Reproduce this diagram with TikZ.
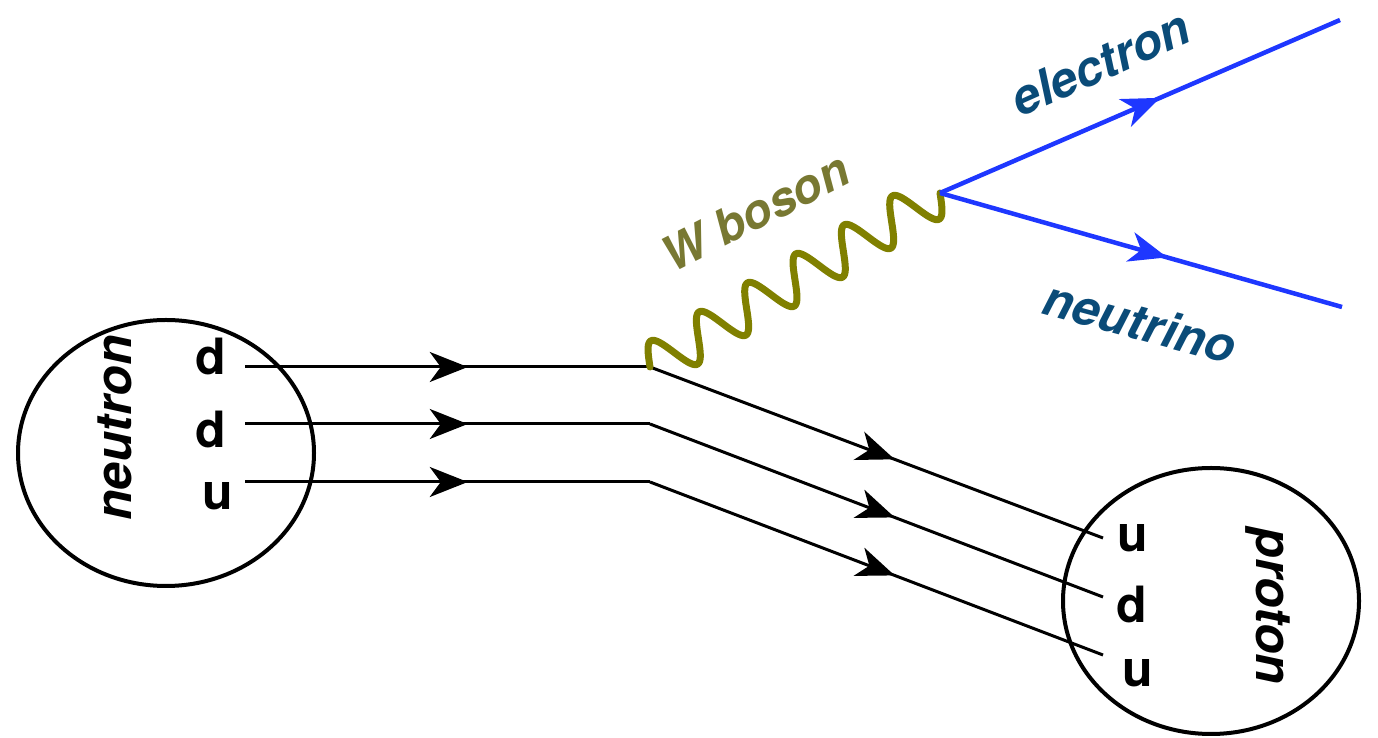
\documentclass[tikz,border=0pt]{standalone}
\usepackage{fontspec}
\setmainfont{TeX Gyre Heros}
\usetikzlibrary{arrows.meta,decorations.markings,shapes.geometric}
\definecolor{wolive}{RGB}{128,128,0}
\definecolor{wtext}{RGB}{120,120,50}
\definecolor{lblue}{RGB}{30,55,255}
\definecolor{tblue}{RGB}{10,75,120}
\tikzset{
  hadron/.style={draw=black,line width=4pt,ellipse,minimum width=296pt,minimum height=266pt,inner sep=0pt},
  quark/.style={font=\fontsize{50}{60}\selectfont\bfseries,inner sep=0pt,anchor=base},
  plabel/.style={font=\fontsize{50}{60}\selectfont\bfseries\itshape,inner sep=0pt},
  qline/.style={draw=black,line width=3pt},
  midarrow/.style={postaction={decorate},decoration={markings,mark=at position #1 with {\arrow{Stealth[length=38pt,width=30pt,inset=11pt]}}}},
  lepton/.style={draw=lblue,line width=4.5pt},
  wave/.style={draw=wolive,line width=7pt,line cap=round,line join=round}
}
\begin{document}
\begin{tikzpicture}[x=1pt,y=1pt]
\useasboundingbox (0,0) rectangle (1378,738);
% hadrons
\node[hadron] (neutron) at (166,285) {};
\node[hadron] (proton) at (1211,137) {};
% coordinates
\coordinate (n1) at (245,371);
\coordinate (n2) at (245,314);
\coordinate (n3) at (245,256);
\coordinate (b1) at (650,371);
\coordinate (b2) at (650,314);
\coordinate (b3) at (650,256);
\coordinate (p1) at (1103,200);
\coordinate (p2) at (1103,141);
\coordinate (p3) at (1103,83);
\coordinate (w) at (940,545);
\coordinate (e) at (1340,718);
\coordinate (nu) at (1342,431);
% quark lines
\foreach \i in {1,2,3}{
  \draw[qline,midarrow=0.55] (n\i) -- (b\i);
  \draw[qline,midarrow=0.54] (b\i) -- (p\i);
}
% W boson (six periods of a sine from b1 to w)
\begin{scope}[shift={(b1)},rotate=30.96]
  \draw[wave] plot[domain=0:338.2,samples=241,smooth] (\x,{22*sin(6.38675*\x)});
\end{scope}
% leptons
\draw[lepton,midarrow=0.55] (w) -- (e);
\draw[lepton,midarrow=0.565] (w) -- (nu);
% quark labels
\node[quark] (qd1) at (211,363) {d};
\node[quark] (qd2) at (211,290) {d};
\node[quark] (qu1) at (218,228) {u};
\node[quark] (pu1) at (1133,186) {u};
\node[quark] (pd1) at (1132,115) {d};
\node[quark] (pu2) at (1138,51) {u};
% particle labels
\node[plabel,rotate=90] (tn) at (115,310) {neutron};
\node[plabel,rotate=-90] (tp) at (1268,132) {proton};
\node[plabel,text=wtext,rotate=27,font=\fontsize{48}{58}\selectfont\bfseries\itshape] (tw) at (755,526) {W boson};
\node[plabel,text=tblue,rotate=24,font=\fontsize{49}{58}\selectfont\bfseries\itshape] (te) at (1100,675) {electron};
\node[plabel,text=tblue,rotate=-15,font=\fontsize{49}{58}\selectfont\bfseries\itshape] (tnu) at (1140,416) {neutrino};
\end{tikzpicture}
\end{document}
